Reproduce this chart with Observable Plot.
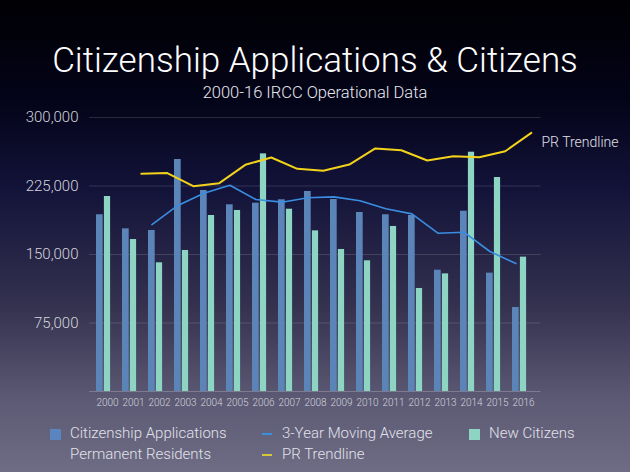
<!DOCTYPE html>
<html>
<head>
<meta charset="utf-8">
<script src="https://cdn.jsdelivr.net/npm/d3@7"></script>
<script src="https://cdn.jsdelivr.net/npm/@observablehq/plot@0.6"></script>
<style>
  html, body { margin: 0; padding: 0; }
  #wrap {
    position: relative; width: 630px; height: 472px; overflow: hidden;
    background: linear-gradient(to bottom, #000003 0%, #04041a 22%, #13133a 40%, #34324f 65%, #5c5a74 85%, #6f6d85 100%);
    font-family: Roboto, "Liberation Sans", sans-serif; font-weight: 300;
  }
  .title { position: absolute; left: 0; width: 630px; text-align: center; color: #fff; white-space: nowrap; }
  #t1 { top: 44px; font-size: 35px; line-height: 34px; }
  #t2 { top: 84px; font-size: 16.5px; line-height: 17px; color: #e8e8ee; }
  #chart { position: absolute; left: 0; top: 100px; }
  .lg { position: absolute; color: #e2e2ea; font-size: 15px; line-height: 15px; white-space: nowrap; }
  .sw { position: absolute; }
</style>
</head>
<body>
<div id="wrap">
  <div class="title" id="t1">Citizenship Applications &amp; Citizens</div>
  <div class="title" id="t2">2000-16 IRCC Operational Data</div>
  <div id="chart"></div>
  <div id="legend"></div>
</div>
<script>
const years = [2000, 2001, 2002, 2003, 2004, 2005, 2006, 2007, 2008, 2009, 2010, 2011, 2012, 2013, 2014, 2015, 2016];
const applications = [193500, 178100, 176300, 254000, 220100, 204400, 206200, 209900, 219000, 210200, 196000, 193500, 192700, 132800, 197400, 129600, 92000];
const newCitizens = [213500, 166400, 140900, 154400, 192700, 198200, 260200, 199600, 175900, 155500, 143100, 180700, 112800, 128800, 262000, 234300, 147100];
const maYears = [2002, 2003, 2004, 2005, 2006, 2007, 2008, 2009, 2010, 2011, 2012, 2013, 2014, 2015, 2016];
const movingAverage = [182800, 203700, 217100, 225900, 210200, 207300, 212100, 213100, 208800, 200000, 194500, 173300, 174400, 153300, 140100];
const prYears = [2001, 2002, 2003, 2004, 2005, 2006, 2007, 2008, 2009, 2010, 2011, 2012, 2013, 2014, 2015, 2016];
const prTrend = [238400, 239100, 224800, 228100, 248200, 256200, 243800, 241600, 248500, 266100, 264200, 252900, 257600, 256500, 263100, 283200];
const yTicks = [75000, 150000, 225000, 300000];

const legendItems = [
  {label: "Citizenship Applications", kind: "box", color: "#5a85c0"},
  {label: "3-Year Moving Average", kind: "line", color: "#3b8fe0"},
  {label: "New Citizens", kind: "box", color: "#8dd4c3"},
  {label: "Permanent Residents", kind: "none", color: null},
  {label: "PR Trendline", kind: "line", color: "#d6c63a"}
];

const bars = years.map((y, i) => ({year: y, applications: applications[i], newCitizens: newCitizens[i]}));
const ma = maYears.map((y, i) => ({year: y, value: movingAverage[i]}));
const pr = prYears.map((y, i) => ({year: y, value: prTrend[i]}));

const FONT = 'Roboto, "Liberation Sans", sans-serif';
const fmt = d3.format(",");

const chart = Plot.plot({
  width: 630,
  height: 315,
  marginTop: 17,
  marginBottom: 24,
  marginLeft: 89,
  marginRight: 89.5,
  style: {background: "transparent", color: "#d4d4dc", fontFamily: FONT, fontWeight: 300, overflow: "visible"},
  x: {type: "band", domain: years, padding: 0, label: null, axis: null},
  y: {domain: [0, 300000], label: null, axis: null},
  marks: [
    Plot.gridY(yTicks, {stroke: "#ffffff", strokeOpacity: 0.14, strokeWidth: 1}),
    Plot.ruleY([0], {stroke: "#ffffff", strokeOpacity: 0.22}),
    Plot.barY(bars, {x: "year", y: "applications", fill: "#5b84b8", insetLeft: 2, insetRight: 17.3}),
    Plot.barY(bars, {x: "year", y: "newCitizens", fill: "#8dd4c3", insetLeft: 9.9, insetRight: 9.9}),
    Plot.lineY(ma, {x: "year", y: "value", stroke: "#3a8ee2", strokeWidth: 1.6, dx: -7.6}),
    Plot.lineY(pr, {x: "year", y: "value", stroke: "#f2d21a", strokeWidth: 2, dx: 7.8}),
    Plot.text(pr, Plot.selectLast({x: "year", y: "value", text: () => "PR Trendline", dx: 18, dy: 10, textAnchor: "start", fill: "#e0e0e8", fontSize: 14})),
    Plot.axisY(yTicks, {tickSize: 0, tickPadding: 11, tickFormat: fmt, fontSize: 15, fill: "#d4d4dc", label: null}),
    Plot.axisX(years, {tickSize: 0, tickPadding: 7, tickFormat: d => `${d}`, fontSize: 10, fill: "#d4d4dc", label: null})
  ]
});
document.getElementById("chart").appendChild(chart);

// legend
const legendPos = [
  {x: 50, y: 434}, {x: 262, y: 434}, {x: 469, y: 434},
  {x: 50, y: 455}, {x: 262, y: 455}
];
const wrap = document.getElementById("wrap");
legendItems.forEach((it, i) => {
  const p = legendPos[i];
  if (it.kind === "box") {
    const s = document.createElement("div");
    s.className = "sw";
    Object.assign(s.style, {left: p.x + "px", top: (p.y - 5.5) + "px", width: "11px", height: "11px", background: it.color});
    wrap.appendChild(s);
  } else if (it.kind === "line") {
    const s = document.createElement("div");
    s.className = "sw";
    Object.assign(s.style, {left: p.x + "px", top: (p.y - 1) + "px", width: "10px", height: "2px", background: it.color});
    wrap.appendChild(s);
  }
  const t = document.createElement("div");
  t.className = "lg";
  t.textContent = it.label;
  Object.assign(t.style, {left: (p.x + 20) + "px", top: (p.y - 8) + "px"});
  wrap.appendChild(t);
});
</script>
</body>
</html>
